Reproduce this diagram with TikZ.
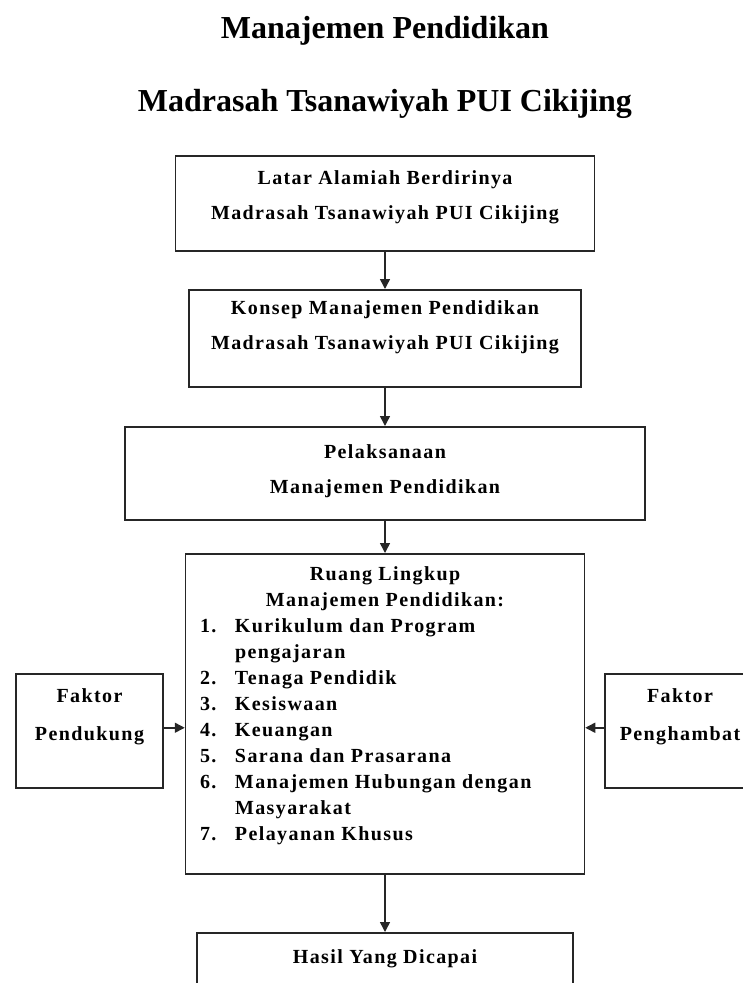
\documentclass[tikz,border=0pt]{standalone}
\usepackage{fontspec}
\setmainfont{Liberation Serif}
\newfontfamily\hurufkotak[LetterSpace=7]{Liberation Serif}
\usetikzlibrary{arrows.meta}
\usetikzlibrary{calc}

\tikzset{
  kotak/.style={draw=black!85, line width=1.5pt, rectangle, inner sep=0pt,
    font=\hurufkotak\bfseries\fontsize{20}{35}\selectfont},
  judul/.style={font=\bfseries\fontsize{32}{38}\selectfont, anchor=base},
  panah/.style={draw=black!85, line width=1.5pt, -{Triangle[length=10pt,width=10pt]}},
}

\begin{document}
\begin{tikzpicture}[x=1pt, y=-1pt]
  \useasboundingbox (0,0) rectangle (743,983);

  \node[judul] (judul1) at (385,38) {Manajemen Pendidikan};
  \node[judul] (judul2) at (385,111) {Madrasah Tsanawiyah PUI Cikijing};

  \node[kotak, anchor=north] (latar) at (385,155)
    {\parbox[c][95pt][t]{419pt}{\centering\rule{0pt}{29pt}Latar Alamiah Berdirinya\\ Madrasah Tsanawiyah PUI Cikijing}};
  \node[kotak, anchor=north] (konsep) at (385,289)
    {\parbox[c][97pt][t]{392pt}{\centering\rule{0pt}{25pt}Konsep Manajemen Pendidikan\\ Madrasah Tsanawiyah PUI Cikijing}};
  \node[kotak, anchor=north] (pelaksanaan) at (385,426)
    {\parbox[c][93pt][t]{520pt}{\centering\rule{0pt}{32pt}Pelaksanaan\\ Manajemen Pendidikan}};
  \node[kotak, anchor=north, font=\hurufkotak\bfseries\fontsize{20}{26}\selectfont] (ruang) at (385,553)
    {\parbox[c][320pt][t]{399pt}{\centering\rule{0pt}{27pt}Ruang Lingkup\\ Manajemen Pendidikan:\par
      \raggedright\hspace*{14.5pt}\begin{tabular}[t]{@{}p{35pt}@{}l@{}}
        1. & Kurikulum dan Program\\
           & pengajaran\\
        2. & Tenaga Pendidik\\
        3. & Kesiswaan\\
        4. & Keuangan\\
        5. & Sarana dan Prasarana\\
        6. & Manajemen Hubungan dengan\\
           & Masyarakat\\
        7. & Pelayanan Khusus
      \end{tabular}}};
  \node[kotak, anchor=north, font=\hurufkotak\bfseries\fontsize{20}{38}\selectfont] (pendukung) at (89.5,673)
    {\parbox[c][114pt][t]{147pt}{\centering\rule{0pt}{29pt}Faktor\\ Pendukung}};
  \node[kotak, anchor=north, font=\hurufkotak\bfseries\fontsize{20}{38}\selectfont] (penghambat) at (680,673)
    {\parbox[c][114pt][t]{150pt}{\centering\rule{0pt}{29pt}Faktor\\ Penghambat}};
  \node[kotak, anchor=north] (hasil) at (385,932)
    {\parbox[c][90pt][t]{376pt}{\centering\rule{0pt}{31pt}Hasil Yang Dicapai}};

  \draw[panah] (latar) -- (konsep);
  \draw[panah] (konsep) -- (pelaksanaan);
  \draw[panah] (pelaksanaan) -- (ruang);
  \draw[panah] (ruang) -- (hasil);
  \draw[panah] ($(pendukung.east)+(0,-3)$) -- ($(pendukung.east -| ruang.west)+(0,-3)$);
  \draw[panah] ($(penghambat.west)+(0,-3)$) -- ($(penghambat.west -| ruang.east)+(0,-3)$);
\end{tikzpicture}
\end{document}
